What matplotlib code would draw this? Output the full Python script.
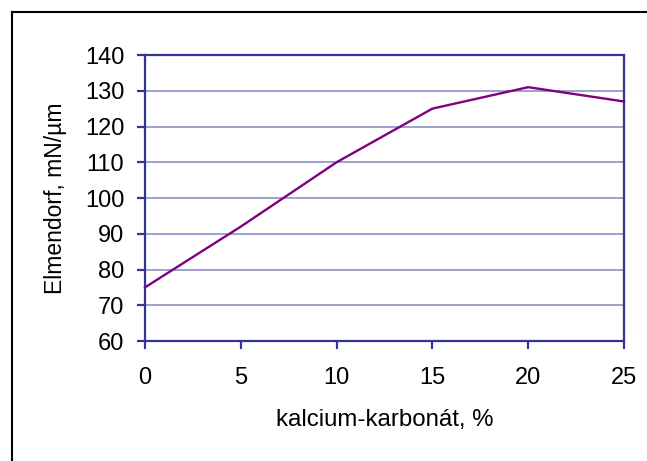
import matplotlib
matplotlib.use("Agg")
from matplotlib import pyplot as plt
from matplotlib.lines import Line2D

plt.rcParams['font.family'] = ['Liberation Sans', 'DejaVu Sans']

# data
kalcium = [0, 5, 10, 15, 20, 25]
elmendorf = [75, 92, 110, 125, 131, 127]
xticks = [0, 5, 10, 15, 20, 25]
yticks = [60, 70, 80, 90, 100, 110, 120, 130, 140]

navy = "#333399"
grid = "#9999cc"

fig = plt.figure(figsize=(6.47, 4.61), dpi=100)
ax = fig.add_axes([145/647, 1 - 341/461, (624-145)/647, (341-55)/461])

ax.plot(kalcium, elmendorf, color="#800080", lw=1.7, clip_on=False, zorder=3)

ax.set_xlim(0, 25)
ax.set_ylim(60, 140)
ax.set_xticks(xticks)
ax.set_yticks(yticks)
ax.yaxis.grid(True, color=grid, lw=1.3)
ax.set_axisbelow(True)

for s in ax.spines.values():
    s.set_color(navy)
    s.set_linewidth(1.6)

ax.tick_params(axis='both', direction='out', length=6, width=1.6, color=navy,
               labelsize=17, labelcolor='black')
ax.tick_params(axis='y', pad=9)
ax.tick_params(axis='x', pad=13)

ax.set_xlabel("kalcium-karbonát, %", fontsize=17.3, labelpad=14)
ax.set_ylabel("Elmendorf, mN/µm", fontsize=16.5, labelpad=13)

# outer frame (only left and top edges are visible)
fig.add_artist(Line2D([12/647, 12/647], [0, 1 - 12/461], color='black', lw=1.5,
                      transform=fig.transFigure))
fig.add_artist(Line2D([12/647, 1], [1 - 12/461, 1 - 12/461], color='black', lw=1.5,
                      transform=fig.transFigure))

fig.savefig("out.png", dpi=100)
